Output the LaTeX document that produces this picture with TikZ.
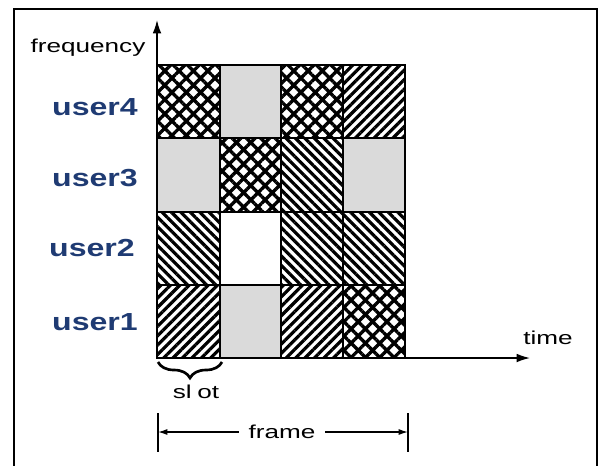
\documentclass[tikz,border=0pt]{standalone}
\usepackage{fontspec}
\setmainfont{Liberation Sans}
\usetikzlibrary{patterns.meta,decorations.pathreplacing,arrows.meta}
\definecolor{userblue}{HTML}{1F3B73}
\definecolor{cellgray}{HTML}{DADADA}
\begin{document}
\begin{tikzpicture}[x=0.75pt,y=-0.75pt,
  cellbox/.style={draw=black,line width=0.9pt},
  ne/.style={cellbox,pattern={Lines[angle=45,distance=5pt,line width=2.4pt]}},
  nw/.style={cellbox,pattern={Lines[angle=-45,distance=5pt,line width=2.4pt]}},
  cross/.style={cellbox,pattern={Hatch[angle=45,distance=7.6pt,line width=2.5pt]}},
  grayc/.style={cellbox,fill=cellgray},
  whitec/.style={cellbox,fill=white},
  userlab/.style={text=userblue,font=\fontsize{18.5}{20}\selectfont\bfseries,xscale=1.3,inner sep=0pt},
  axlab/.style={font=\fontsize{14}{16}\selectfont,xscale=1.4,inner sep=0pt},
  axis/.style={line width=1.1pt,-{Latex[length=10pt,width=6.5pt]}},
  dim/.style={line width=1pt,-{Latex[length=7pt,width=4.5pt]}},
  bar/.style={line width=1.1pt}
]
\useasboundingbox (0,0) rectangle (599,465);
% outer border
\draw[line width=1.7pt] (14,466) -- (14,9) -- (597,9) -- (597,466);

% cells: columns 157,220,281,343,405 ; rows 65,138,212,285,358
% user4 row
\path[cross] (157,65) rectangle (220,138);
\path[grayc] (220,65) rectangle (281,138);
\path[cross] (281,65) rectangle (343,138);
\path[ne]    (343,65) rectangle (405,138);
% user3 row
\path[grayc] (157,138) rectangle (220,212);
\path[cross] (220,138) rectangle (281,212);
\path[nw]    (281,138) rectangle (343,212);
\path[grayc] (343,138) rectangle (405,212);
% user2 row
\path[nw]     (157,212) rectangle (220,285);
\path[whitec] (220,212) rectangle (281,285);
\path[nw]     (281,212) rectangle (343,285);
\path[nw]     (343,212) rectangle (405,285);
% user1 row
\path[ne]    (157,285) rectangle (220,358);
\path[grayc] (220,285) rectangle (281,358);
\path[ne]    (281,285) rectangle (343,358);
\path[cross] (343,285) rectangle (405,358);

% axes
\coordinate (origin) at (157,358);
\coordinate (ytip) at (157,20);
\coordinate (xtip) at (530,358);
\draw[axis] (origin) -- (ytip);
\draw[axis] (origin) -- (xtip);

\node[axlab] (freq) at (88,48) {frequency};
\node[axlab] (time) at (548,338) {time};

\node[userlab] (u4) at (95,107) {user4};
\node[userlab] (u3) at (95,178) {user3};
\node[userlab] (u2) at (92,248) {user2};
\node[userlab] (u1) at (95,322) {user1};

% slot brace
\coordinate (sa) at (158,362);
\coordinate (sb) at (222,362);
\draw[decorate,decoration={brace,mirror,amplitude=12pt},line width=2pt] (sa) -- (sb);
\node[axlab] (slot) at (196,392) {sl\hspace{3pt}ot};

% frame dimension
\coordinate (fl) at (158,432);
\coordinate (fr) at (408,432);
\coordinate (flt) at (158,413);
\coordinate (flb) at (158,452);
\coordinate (frt) at (408,413);
\coordinate (frb) at (408,452);
\draw[bar] (flt) -- (flb);
\draw[bar] (frt) -- (frb);
\node[axlab,inner xsep=5pt] (flab) at (282,432) {frame};
\draw[dim] (flab.west) -- (fl);
\draw[dim] (flab.east) -- (fr);
\end{tikzpicture}
\end{document}
